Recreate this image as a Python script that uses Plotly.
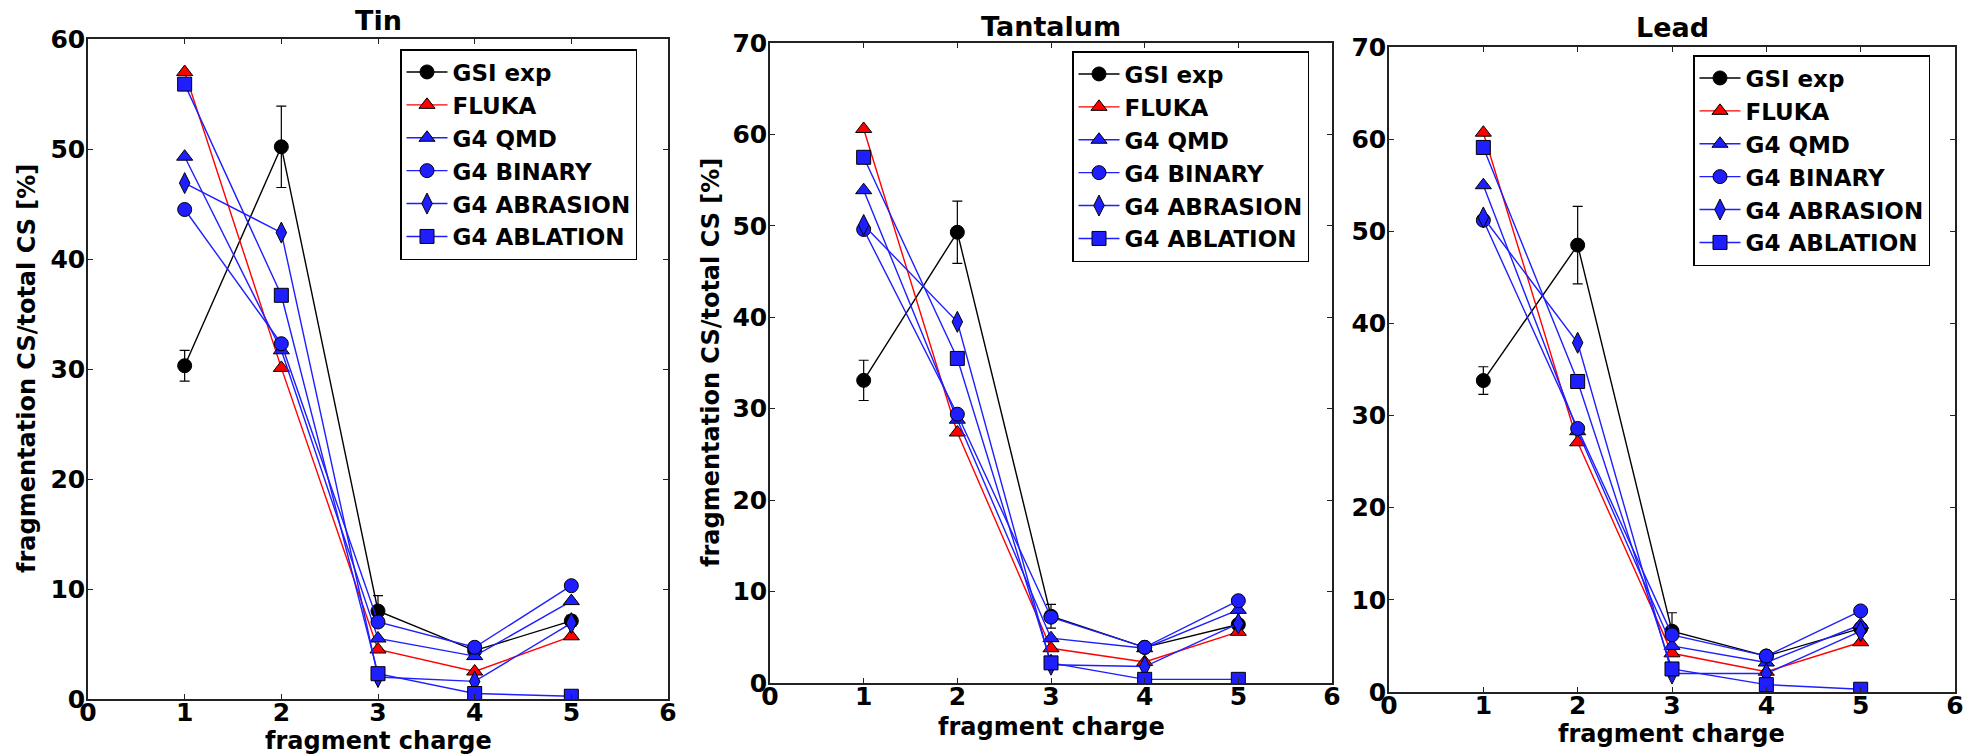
import plotly.graph_objects as go

W, H = 1980, 755

# ---------------- data ----------------
charges = [1, 2, 3, 4, 5]
series_names = ["GSI exp", "FLUKA", "G4 QMD", "G4 BINARY", "G4 ABRASION", "G4 ABLATION"]
panel_titles = ["Tin", "Tantalum", "Lead"]
x_ticks = [0, 1, 2, 3, 4, 5, 6]

# Tin
tin_gsi = [30.3, 50.2, 8.0, 4.4, 7.1]
tin_gsi_err = [1.4, 3.7, 1.4, 0.4, 0.5]
tin_fluka = [57.0, 30.1, 4.5, 2.5, 5.7]
tin_qmd = [49.3, 31.7, 5.5, 3.9, 8.9]
tin_binary = [44.5, 32.3, 7.0, 4.7, 10.3]
tin_abrasion = [46.9, 42.4, 2.0, 1.6, 6.9]
tin_ablation = [55.9, 36.7, 2.3, 0.5, 0.25]

# Tantalum
ta_gsi = [33.1, 49.3, 7.3, 3.9, 6.4]
ta_gsi_err = [2.2, 3.4, 1.3, 0.4, 0.4]
ta_fluka = [60.6, 27.4, 3.8, 2.3, 5.6]
ta_qmd = [53.9, 28.8, 4.9, 3.8, 8.0]
ta_binary = [49.6, 29.4, 7.2, 3.9, 9.0]
ta_abrasion = [50.1, 39.5, 2.0, 1.8, 6.5]
ta_ablation = [57.5, 35.5, 2.2, 0.4, 0.4]

# Lead
pb_gsi = [33.8, 48.5, 6.6, 3.9, 6.9]
pb_gsi_err = [1.5, 4.2, 2.0, 0.4, 0.5]
pb_fluka = [60.7, 27.1, 4.2, 2.2, 5.4]
pb_qmd = [55.0, 28.3, 5.0, 3.2, 7.3]
pb_binary = [51.2, 28.6, 6.2, 3.9, 8.8]
pb_abrasion = [51.5, 37.9, 2.0, 2.0, 6.6]
pb_ablation = [59.1, 33.7, 2.5, 0.8, 0.3]

y_max = [60, 70, 70]

# ---------------- styles ----------------
BLUE = "rgb(30,30,255)"
styles = [
    dict(color="black", symbol="circle"),
    dict(color="red", symbol="triangle-up"),
    dict(color=BLUE, symbol="triangle-up"),
    dict(color=BLUE, symbol="circle"),
    dict(color=BLUE, symbol="diamond-tall"),
    dict(color=BLUE, symbol="square"),
]
marker_size = [14, 14, 14, 14, 15, 14]

panels = [
    (tin_gsi, tin_gsi_err, [tin_fluka, tin_qmd, tin_binary, tin_abrasion, tin_ablation]),
    (ta_gsi, ta_gsi_err, [ta_fluka, ta_qmd, ta_binary, ta_abrasion, ta_ablation]),
    (pb_gsi, pb_gsi_err, [pb_fluka, pb_qmd, pb_binary, pb_abrasion, pb_ablation]),
]

# pixel geometry of the three plotting areas (left, right, top, bottom)
boxes = [(88, 668, 39, 699), (770, 1332, 43, 683), (1389, 1955, 47, 692)]
legend_pos = [(400, 49), (1072, 51), (1693, 55)]
title_pos = [(378, 21), (1051, 26), (1672, 28)]
xlabel_pos = [(378, 741), (1051, 727), (1671, 734)]
ylabel_pos = [(27, 369), (711, 363)]

FONT = "DejaVu Sans"
fig = go.Figure()

for p, (gsi, gsi_err, models) in enumerate(panels):
    ax = "" if p == 0 else str(p + 1)
    leg = "legend" if p == 0 else "legend%d" % (p + 1)
    all_series = [gsi] + models
    for s, vals in enumerate(all_series):
        st = styles[s]
        tr = dict(
            x=charges, y=vals, name=series_names[s], mode="lines+markers",
            line=dict(color=st["color"], width=1.4),
            marker=dict(symbol=st["symbol"], size=marker_size[s], color=st["color"],
                        line=dict(color="black", width=1)),
            xaxis="x" + ax, yaxis="y" + ax, legend=leg, showlegend=True,
        )
        if s == 0:
            tr["error_y"] = dict(type="data", array=gsi_err, visible=True,
                                 color="black", thickness=1.2, width=5)
        fig.add_trace(go.Scatter(**tr))

layout = dict(
    width=W, height=H, margin=dict(l=0, r=0, t=0, b=0, autoexpand=False),
    paper_bgcolor="white", plot_bgcolor="white",
    font=dict(family=FONT, color="black"),
    annotations=[],
)

tickfont = dict(family=FONT, size=25, color="black", weight="bold")
for p, (l, r, t, b) in enumerate(boxes):
    ax = "" if p == 0 else str(p + 1)
    xd = [l / W, r / W]
    yd = [1 - b / H, 1 - t / H]
    common = dict(showline=True, linecolor="#222", linewidth=1.5, mirror="allticks",
                  ticks="inside", ticklen=5, tickwidth=1.2, tickcolor="#222",
                  showgrid=False, zeroline=False, tickfont=tickfont, automargin=False)
    layout["xaxis" + ax] = dict(domain=xd, range=[0, 6], tickvals=x_ticks,
                                anchor="y" + ax, ticklabelstandoff=-10, **common)
    layout["yaxis" + ax] = dict(domain=yd, range=[0, y_max[p]], dtick=10, tick0=0,
                                anchor="x" + ax, ticklabelstandoff=-4, **common)
    leg = "legend" if p == 0 else "legend%d" % (p + 1)
    lx, ly = legend_pos[p]
    layout[leg] = dict(x=lx / W, y=1 - ly / H, xanchor="left", yanchor="top",
                       bgcolor="white", bordercolor="black", borderwidth=1.5,
                       font=dict(family=FONT, size=23, color="black", weight="bold"),
                       tracegroupgap=0, itemwidth=41)
    tx, ty = title_pos[p]
    layout["annotations"].append(dict(text=panel_titles[p], x=tx / W, y=1 - ty / H,
                                      xref="paper", yref="paper", showarrow=False,
                                      xanchor="center", yanchor="middle",
                                      font=dict(family=FONT, size=27, weight="bold")))
    xx, xy = xlabel_pos[p]
    layout["annotations"].append(dict(text="fragment charge", x=xx / W, y=1 - xy / H,
                                      xref="paper", yref="paper", showarrow=False,
                                      xanchor="center", yanchor="middle",
                                      font=dict(family=FONT, size=24, weight="bold")))

for (yx, yy) in ylabel_pos:
    layout["annotations"].append(dict(text="fragmentation CS/total CS [%]", x=yx / W,
                                      y=1 - yy / H, xref="paper", yref="paper",
                                      showarrow=False, textangle=-90,
                                      xanchor="center", yanchor="middle",
                                      font=dict(family=FONT, size=24, weight="bold")))

fig.update_layout(**layout)
fig.write_html("out.html",
               post_script="document.body.style.margin='0px';"
                           "document.body.style.overflow='hidden';")
